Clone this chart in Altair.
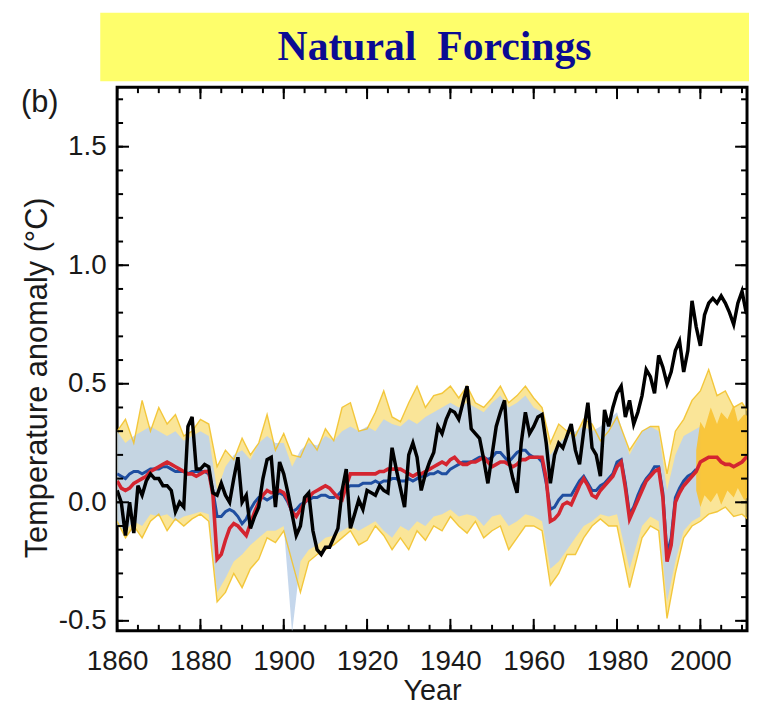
import altair as alt
import pandas as pd

# ---------------- data ----------------
obs_years = list(range(1860, 2013))
obs_values = [
    0.05, 0.00, -0.14, 0.00, -0.13, 0.07, 0.03, 0.09, 0.12, 0.10,   # 1860s
    0.10, 0.07, 0.07, 0.05, -0.04, 0.00, -0.02, 0.32, 0.36, 0.14,   # 1870s
    0.14, 0.16, 0.15, 0.04, 0.03, 0.08, 0.03, 0.00, 0.10, 0.19,     # 1880s
    0.00, 0.03, -0.11, -0.06, -0.02, 0.10, 0.18, 0.19, -0.02, 0.17, # 1890s
    0.12, 0.04, -0.05, -0.14, -0.10, 0.02, 0.04, -0.12, -0.20, -0.22,  # 1900s
    -0.19, -0.19, -0.15, -0.11, 0.05, 0.14, -0.11, -0.05, 0.01, -0.03,  # 1910s
    0.05, 0.04, 0.03, 0.07, 0.05, 0.04, 0.23, 0.14, 0.06, -0.02,    # 1920s
    0.20, 0.25, 0.19, 0.05, 0.12, 0.17, 0.21, 0.32, 0.29, 0.35,     # 1930s
    0.39, 0.38, 0.35, 0.42, 0.49, 0.31, 0.29, 0.27, 0.18, 0.08,     # 1940s
    0.20, 0.32, 0.38, 0.43, 0.18, 0.10, 0.04, 0.25, 0.38, 0.29,     # 1950s
    0.32, 0.36, 0.37, 0.25, 0.08, 0.20, 0.25, 0.23, 0.28, 0.33,     # 1960s
    0.22, 0.16, 0.30, 0.42, 0.23, 0.20, 0.11, 0.39, 0.32, 0.40,     # 1970s
    0.46, 0.49, 0.36, 0.43, 0.33, 0.38, 0.45, 0.56, 0.53, 0.46,     # 1980s
    0.62, 0.57, 0.50, 0.55, 0.64, 0.68, 0.55, 0.64, 0.85, 0.74,     # 1990s
    0.66, 0.79, 0.84, 0.86, 0.84, 0.87, 0.84, 0.80, 0.75, 0.84,     # 2000s
    0.89, 0.80, 0.79,                                               # 2010s
]

red_years = list(range(1860, 2013))
red_values = [
    0.09, 0.06, 0.05, 0.06, 0.08, 0.09, 0.10, 0.11, 0.13, 0.14,
    0.15, 0.16, 0.17, 0.16, 0.15, 0.14, 0.13, 0.12, 0.12, 0.11,
    0.12, 0.13, 0.13, 0.03, -0.24, -0.22, -0.16, -0.11, -0.09, -0.10,
    -0.12, -0.14, -0.09, -0.04, 0.00, 0.03, 0.05, 0.04, 0.04, 0.05,
    0.04, 0.01, -0.04, -0.06, -0.03, 0.00, 0.02, 0.04, 0.05, 0.06,
    0.07, 0.06, 0.04, 0.02, 0.01, 0.07, 0.12, 0.12, 0.12, 0.12,
    0.12, 0.12, 0.12, 0.13, 0.13, 0.14, 0.14, 0.14, 0.14, 0.13,
    0.12, 0.11, 0.12, 0.12, 0.13, 0.14, 0.15, 0.16, 0.17, 0.16,
    0.18, 0.19, 0.17, 0.16, 0.16, 0.17, 0.17, 0.18, 0.19, 0.17,
    0.15, 0.16, 0.17, 0.17, 0.16, 0.15, 0.16, 0.18, 0.18, 0.19,
    0.19, 0.19, 0.19, 0.10, -0.08, -0.07, -0.05, -0.01, 0.00, -0.01,
    0.03, 0.07, 0.10, 0.07, 0.03, 0.02, 0.05, 0.07, 0.09, 0.11,
    0.15, 0.17, 0.06, -0.07, -0.03, 0.01, 0.05, 0.09, 0.11, 0.13,
    0.14, 0.02, -0.25, -0.18, 0.00, 0.04, 0.07, 0.09, 0.11, 0.13,
    0.17, 0.18, 0.19, 0.19, 0.19, 0.17, 0.16, 0.16, 0.15, 0.16,
    0.17, 0.19, 0.19,
]

blue_years = list(range(1860, 2000))
blue_values = [
    0.12, 0.11, 0.10, 0.12, 0.13, 0.13, 0.12, 0.13, 0.14, 0.14,
    0.14, 0.15, 0.15, 0.14, 0.13, 0.13, 0.13, 0.12, 0.13, 0.13,
    0.13, 0.13, 0.12, 0.05, -0.06, -0.06, -0.04, -0.03, -0.04, -0.06,
    -0.09, -0.07, -0.03, 0.00, 0.02, 0.02, 0.01, 0.02, 0.03, 0.04,
    0.03, 0.00, -0.04, -0.03, -0.01, 0.00, 0.01, 0.02, 0.02, 0.03,
    0.03, 0.02, 0.02, 0.03, 0.05, 0.06, 0.07, 0.07, 0.07, 0.08,
    0.08, 0.08, 0.09, 0.08, 0.09, 0.09, 0.10, 0.10, 0.09, 0.09,
    0.10, 0.09, 0.10, 0.11, 0.11, 0.12, 0.12, 0.13, 0.12, 0.12,
    0.14, 0.15, 0.16, 0.17, 0.17, 0.17, 0.18, 0.19, 0.19, 0.18,
    0.19, 0.21, 0.21, 0.19, 0.17, 0.19, 0.21, 0.22, 0.22, 0.20,
    0.19, 0.19, 0.17, 0.08, -0.03, -0.02, 0.01, 0.03, 0.03, 0.03,
    0.06, 0.09, 0.11, 0.08, 0.05, 0.05, 0.07, 0.08, 0.10, 0.12,
    0.17, 0.18, 0.08, -0.05, -0.02, 0.03, 0.07, 0.10, 0.12, 0.15,
    0.15, 0.04, -0.22, -0.15, 0.02, 0.06, 0.09, 0.11, 0.12, 0.14,
]

env_years = [
    1860, 1862, 1864, 1866, 1868, 1870, 1872, 1874, 1876, 1878,
    1880, 1882, 1884, 1886, 1888, 1890, 1892, 1894, 1896, 1898,
    1900, 1902, 1904, 1906, 1908, 1910, 1912, 1914, 1916, 1918,
    1920, 1922, 1924, 1926, 1928, 1930, 1932, 1934, 1936, 1938,
    1940, 1942, 1944, 1946, 1948, 1950, 1952, 1954, 1956, 1958,
    1960, 1962, 1964, 1966, 1968, 1970, 1972, 1974, 1976, 1978,
    1980, 1983, 1986, 1988, 1990, 1992, 1994, 1996, 1998, 2000,
    2002, 2004, 2006, 2008, 2010, 2012,
]
yellow_upper = [
    0.30, 0.35, 0.25, 0.43, 0.30, 0.40, 0.33, 0.37, 0.28, 0.30,
    0.35, 0.33, 0.15, 0.22, 0.18, 0.27, 0.20, 0.25, 0.37, 0.22,
    0.29, 0.20, 0.19, 0.27, 0.22, 0.31, 0.26, 0.40, 0.42, 0.30,
    0.31, 0.38, 0.47, 0.36, 0.34, 0.42, 0.49, 0.40, 0.45, 0.46,
    0.49, 0.44, 0.49, 0.42, 0.40, 0.44, 0.49, 0.42, 0.45, 0.49,
    0.44, 0.40, 0.25, 0.33, 0.30, 0.28, 0.35, 0.33, 0.26, 0.30,
    0.36, 0.22, 0.30, 0.32, 0.32, 0.12, 0.30, 0.35, 0.43, 0.47,
    0.56, 0.45, 0.47, 0.40, 0.42, 0.37,
]
yellow_lower = [
    -0.08, -0.15, -0.10, -0.15, -0.08, -0.05, -0.12, -0.07, -0.10, -0.07,
    -0.05, -0.08, -0.42, -0.38, -0.30, -0.36, -0.28, -0.24, -0.15, -0.17,
    -0.12, -0.25, -0.38, -0.25, -0.22, -0.20, -0.18, -0.15, -0.12, -0.18,
    -0.16, -0.10, -0.14, -0.20, -0.15, -0.20, -0.12, -0.16, -0.10, -0.12,
    -0.06, -0.10, -0.13, -0.08, -0.15, -0.12, -0.10, -0.20, -0.15, -0.10,
    -0.10, -0.12, -0.35, -0.30, -0.22, -0.22, -0.15, -0.10, -0.07, -0.10,
    -0.10, -0.36, -0.15, -0.10, -0.12, -0.49, -0.30, -0.15, -0.10, -0.08,
    -0.05, -0.04, -0.02, -0.06, -0.05, -0.08,
]
band_upper = [
    0.30, 0.25, 0.28, 0.30, 0.32, 0.30, 0.28, 0.30, 0.26, 0.28,
    0.30, 0.28, 0.05, 0.15, 0.20, 0.22, 0.18, 0.25, 0.28, 0.25,
    0.25, 0.15, 0.22, 0.25, 0.24, 0.28, 0.26, 0.30, 0.32, 0.30,
    0.32, 0.30, 0.35, 0.33, 0.32, 0.35, 0.33, 0.36, 0.38, 0.40,
    0.42, 0.40, 0.42, 0.40, 0.38, 0.42, 0.45, 0.40, 0.42, 0.45,
    0.40, 0.38, 0.20, 0.25, 0.28, 0.30, 0.32, 0.30, 0.32, 0.35,
    0.38, 0.20, 0.30, 0.32, 0.30, 0.05, 0.20, 0.28, 0.30, 0.32,
]
band_lower = [
    -0.10, -0.12, -0.08, -0.10, -0.05, -0.06, -0.05, -0.08, -0.06, -0.05,
    -0.04, -0.05, -0.38, -0.32, -0.25, -0.22, -0.18, -0.15, -0.12, -0.12,
    -0.10, -0.55, -0.25, -0.20, -0.18, -0.15, -0.14, -0.12, -0.10, -0.12,
    -0.10, -0.08, -0.12, -0.15, -0.10, -0.12, -0.08, -0.10, -0.06, -0.05,
    -0.03, -0.06, -0.05, -0.06, -0.10, -0.06, -0.05, -0.10, -0.08, -0.05,
    -0.06, -0.08, -0.28, -0.25, -0.20, -0.15, -0.10, -0.08, -0.05, -0.06,
    -0.05, -0.28, -0.10, -0.06, -0.08, -0.42, -0.25, -0.12, -0.08, -0.06,
]
core_years = [1999, 2000, 2001, 2002.5, 2004, 2005, 2006.5, 2008, 2009, 2010.5, 2012]
core_lower = [0.05, -0.02, 0.03, 0.00, 0.04, -0.01, 0.05, 0.02, 0.06, 0.01, 0.03]
core_upper = [0.22, 0.34, 0.31, 0.40, 0.33, 0.38, 0.35, 0.41, 0.34, 0.37, 0.36]

x_label_values = [1860, 1880, 1900, 1920, 1940, 1960, 1980, 2000]
x_minor_ticks = [1860, 1865, 1870, 1875, 1880, 1885, 1890, 1895, 1900, 1905,
                 1910, 1915, 1920, 1925, 1930, 1935, 1940, 1945, 1950, 1955,
                 1960, 1965, 1970, 1975, 1980, 1985, 1990, 1995, 2000, 2005, 2010]
y_label_values = [-0.5, 0.0, 0.5, 1.0, 1.5]
y_minor_ticks = [-0.5, -0.4, -0.3, -0.2, -0.1, 0.0, 0.1, 0.2, 0.3, 0.4, 0.5, 0.6,
                 0.7, 0.8, 0.9, 1.0, 1.1, 1.2, 1.3, 1.4, 1.5, 1.6, 1.7]

title_text = "Natural\u00a0\u00a0Forcings"
panel_text = "(b)"
y_title = "Temperature anomaly (\u00b0C)"
x_title = "Year"

# ---------------- layout ----------------
W, H = 635, 548
SANS = "Liberation Sans, Arial, Helvetica, sans-serif"
SERIF = "Liberation Serif, Times New Roman, serif"
TXT = "#1a1a1a"

xscale = alt.Scale(domain=[1860, 2011.2], nice=False, zero=False)
yscale = alt.Scale(domain=[-0.542, 1.751], nice=False, zero=False)
xaxis = alt.Axis(values=x_label_values, ticks=False, domain=False, grid=False, title=None,
                 labelFontSize=28, labelFont=SANS, labelColor=TXT, labelPadding=17,
                 labelFlush=False, labelOverlap=False, format="d")
yaxis = alt.Axis(values=y_label_values, ticks=False, domain=False, grid=False, title=None,
                 labelFontSize=28, labelFont=SANS, labelColor=TXT, labelPadding=11,
                 labelFlush=False, labelOverlap=False,
                 labelExpr="datum.value < 0 ? '-' + format(abs(datum.value), '.1f') : format(datum.value, '.1f')")
X = alt.X("year:Q", scale=xscale, axis=xaxis)
Y = alt.Y("val:Q", scale=yscale, axis=yaxis)
Y2 = alt.Y2("val2:Q")

env_df = pd.DataFrame({"year": env_years, "val": yellow_lower, "val2": yellow_upper})
band_df = pd.DataFrame({"year": env_years[:len(band_upper)], "val": band_lower, "val2": band_upper})
core_df = pd.DataFrame({"year": core_years, "val": core_lower, "val2": core_upper})
up_df = pd.DataFrame({"year": env_years, "val": yellow_upper})
lo_df = pd.DataFrame({"year": env_years, "val": yellow_lower})
obs_df = pd.DataFrame({"year": obs_years, "val": obs_values})
red_df = pd.DataFrame({"year": red_years, "val": red_values})
blue_df = pd.DataFrame({"year": blue_years, "val": blue_values})

yellow_env = alt.Chart(env_df).mark_area(color="#F7D558", opacity=0.62, clip=True).encode(x=X, y=Y, y2=Y2)
blue_band = alt.Chart(band_df).mark_area(color="#BFD3EA", opacity=0.9, clip=True).encode(x=X, y=Y, y2=Y2)
yellow_up = alt.Chart(up_df).mark_line(color="#F2C22C", strokeWidth=1.4, opacity=0.9, clip=True).encode(x=X, y=Y)
yellow_lo = alt.Chart(lo_df).mark_line(color="#F2C22C", strokeWidth=1.4, opacity=0.9, clip=True).encode(x=X, y=Y)
core = alt.Chart(core_df).mark_area(color="#F8C232", opacity=0.9, clip=True).encode(x=X, y=Y, y2=Y2)
blue_line = alt.Chart(blue_df).mark_line(color="#1F4EA0", strokeWidth=3, clip=True).encode(x=X, y=Y)
red_line = alt.Chart(red_df).mark_line(color="#D42530", strokeWidth=3.6, clip=True).encode(x=X, y=Y)
obs_line = alt.Chart(obs_df).mark_line(color="black", strokeWidth=3.5, clip=True).encode(x=X, y=Y)

# inward ticks on all four sides
xmin_df = pd.DataFrame({"year": x_minor_ticks})
xmaj_df = pd.DataFrame({"year": x_label_values})
ymin_df = pd.DataFrame({"val": y_minor_ticks})
ymaj_df = pd.DataFrame({"val": y_label_values})
tick = dict(color="black", strokeWidth=2)
ticks = [
    alt.Chart(xmin_df).mark_rule(**tick).encode(x=X, y=alt.value(H), y2=alt.value(H - 6)),
    alt.Chart(xmaj_df).mark_rule(**tick).encode(x=X, y=alt.value(H), y2=alt.value(H - 12)),
    alt.Chart(xmin_df).mark_rule(**tick).encode(x=X, y=alt.value(0), y2=alt.value(6)),
    alt.Chart(xmaj_df).mark_rule(**tick).encode(x=X, y=alt.value(0), y2=alt.value(12)),
    alt.Chart(ymin_df).mark_rule(**tick).encode(y=Y, x=alt.value(0), x2=alt.value(6)),
    alt.Chart(ymaj_df).mark_rule(**tick).encode(y=Y, x=alt.value(0), x2=alt.value(12)),
    alt.Chart(ymin_df).mark_rule(**tick).encode(y=Y, x=alt.value(W), x2=alt.value(W - 6)),
    alt.Chart(ymaj_df).mark_rule(**tick).encode(y=Y, x=alt.value(W), x2=alt.value(W - 12)),
]

one = pd.DataFrame({"t": [0]})
banner = alt.Chart(one).mark_rect(color="#FEFE6B").encode(
    x=alt.value(-17), x2=alt.value(W + 4), y=alt.value(-75), y2=alt.value(-6))
title = alt.Chart(one).mark_text(text=title_text, font=SERIF, fontSize=42, fontWeight="bold",
                                 color="#0B0B93", align="center", baseline="alphabetic").encode(
    x=alt.value(320), y=alt.value(-27))
panel = alt.Chart(one).mark_text(text=panel_text, font=SANS, fontSize=31, color=TXT,
                                 align="left", baseline="alphabetic").encode(
    x=alt.value(-97), y=alt.value(25))
ytitle = alt.Chart(one).mark_text(text=y_title, font=SANS, fontSize=31, color=TXT, angle=270,
                                  align="center", baseline="middle").encode(
    x=alt.value(-80), y=alt.value(293))
xtitle = alt.Chart(one).mark_text(text=x_title, font=SANS, fontSize=29, color=TXT,
                                  align="center", baseline="alphabetic").encode(
    x=alt.value(318), y=alt.value(618))

chart = alt.layer(
    yellow_env, blue_band, yellow_up, yellow_lo, core, blue_line, red_line, obs_line,
    *ticks, banner, title, panel, ytitle, xtitle,
).properties(
    width=W, height=H,
    autosize=alt.AutoSizeParams(type="none"),
    padding={"left": 110, "top": 77, "right": 2, "bottom": 75},
    background="white",
).configure_view(stroke="black", strokeWidth=3)

chart.save("out.html", embed_options={"renderer": "svg", "actions": False})
